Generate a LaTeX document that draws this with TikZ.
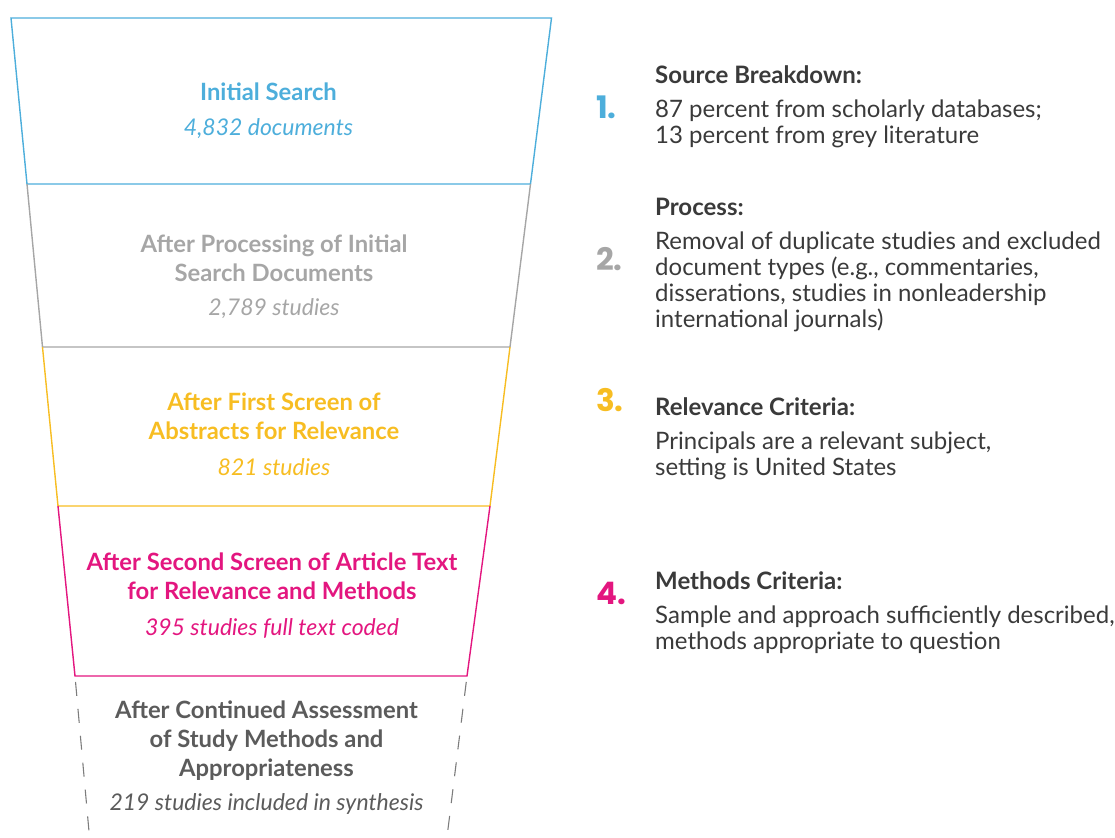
\documentclass[tikz,border=0pt]{standalone}
\usepackage{fontspec}
\setmainfont{Lato}
\newfontfamily\numfont{Poppins}
\usetikzlibrary{positioning}
\definecolor{stageblue}{HTML}{4DAEDB}
\definecolor{stagegrey}{HTML}{A6A6A6}
\definecolor{stageyellow}{HTML}{F7BD22}
\definecolor{stagepink}{HTML}{E3167F}
\definecolor{stagedark}{HTML}{5B5B5B}
\definecolor{bodytext}{HTML}{3A3A3A}
\tikzset{
    funnel/.style={x=1pt, y=-1pt, line join=miter},
    edge/.style={line width=1.4pt},
    lastedge/.style={line width=1.1pt, stagedark!80, dash pattern=on 14pt off 13pt, dash phase=-6pt},
    stagetitle/.style={font=\fontsize{23.8}{29}\selectfont\bfseries, align=center, inner sep=0pt},
    stagecount/.style={font=\fontsize{23}{26}\selectfont\itshape, inner sep=0pt},
    stepnum/.style={font=\fontsize{31}{31}\selectfont\numfont\bfseries, inner sep=0pt, anchor=west},
    stephead/.style={font=\fontsize{24}{26}\selectfont\bfseries, text=bodytext, inner sep=0pt, anchor=base west},
    stepbody/.style={font=\fontsize{24}{26}\selectfont, text=bodytext, align=left, inner sep=0pt},
}
\begin{document}
\begin{tikzpicture}[funnel]
    \useasboundingbox (0,0) rectangle (1115,837);

    % funnel corners, left and right edge
    \coordinate (l0) at (11,18);   \coordinate (r0) at (551.5,18);
    \coordinate (l1) at (27,184);  \coordinate (r1) at (530.5,184);
    \coordinate (l2) at (42.5,347);\coordinate (r2) at (510,347);
    \coordinate (l3) at (58,506);  \coordinate (r3) at (490,506);
    \coordinate (l4) at (75,676);  \coordinate (r4) at (467,676);
    \coordinate (l5) at (89.5,837);\coordinate (r5) at (447,837);

    % stage outlines, each draws its own bottom
    \draw[edge, stageblue]   (l1) -- (l0) -- (r0) -- (r1) -- cycle;
    \draw[edge, stagegrey]   (l1) -- (l2) -- (r2) -- (r1);
    \draw[edge, stageyellow] (l2) -- (l3) -- (r3) -- (r2);
    \draw[edge, stagepink]   (l3) -- (l4) -- (r4) -- (r3);
    \draw[lastedge] (l4) -- (l5);
    \draw[lastedge] (r4) -- (r5);

    % stage texts
    \node[stagetitle, text=stageblue]   (title1) at (268.5,92)  {Initial Search};
    \node[stagecount, text=stageblue]   (count1) at (268.5,129) {4,832 documents};
    \node[stagetitle, text=stagegrey]   (title2) at (274,258.5) {After Processing of Initial\\Search Documents};
    \node[stagecount, text=stagegrey]   (count2) at (274,309)   {2,789 studies};
    \node[stagetitle, text=stageyellow] (title3) at (274,416.5) {After First Screen of\\Abstracts for Relevance};
    \node[stagecount, text=stageyellow] (count3) at (274,467)   {821 studies};
    \node[stagetitle, text=stagepink]   (title4) at (272,576.5) {After Second Screen of Article Text\\for Relevance and Methods};
    \node[stagecount, text=stagepink]   (count4) at (272,628)   {395 studies full text coded};
    \node[stagetitle, text=stagedark]   (title5) at (266.5,741) {After Continued Assessment\\of Study Methods and\\Appropriateness};
    \node[stagecount, text=stagedark]   (count5) at (266.5,804) {219 studies included in synthesis};

    % numbered notes
    \node[stepnum, text=stageblue]   (num1) at (596,107) {1.};
    \node[stepnum, text=stagegrey]   (num2) at (596,259) {2.};
    \node[stepnum, text=stageyellow] (num3) at (596,400) {3.};
    \node[stepnum, text=stagepink]   (num4) at (596,593) {4.};

    \node[stephead] (head1) at (655,83.5)  {Source Breakdown:};
    \node[stepbody, below=16.5pt of head1.base west, anchor=north west] (body1)
        {87 percent from scholarly databases;\\13 percent from grey literature};
    \node[stephead] (head2) at (655,215.5) {Process:};
    \node[stepbody, below=16.5pt of head2.base west, anchor=north west] (body2)
        {Removal of duplicate studies and excluded\\document types (e.g., commentaries,\\disserations, studies in nonleadership\\international journals)};
    \node[stephead] (head3) at (655,415.5) {Relevance Criteria:};
    \node[stepbody, below=16.5pt of head3.base west, anchor=north west] (body3)
        {Principals are a relevant subject,\\setting is United States};
    \node[stephead] (head4) at (655,589.5) {Methods Criteria:};
    \node[stepbody, below=16.5pt of head4.base west, anchor=north west] (body4)
        {Sample and approach sufficiently described,\\methods appropriate to question};
\end{tikzpicture}
\end{document}
